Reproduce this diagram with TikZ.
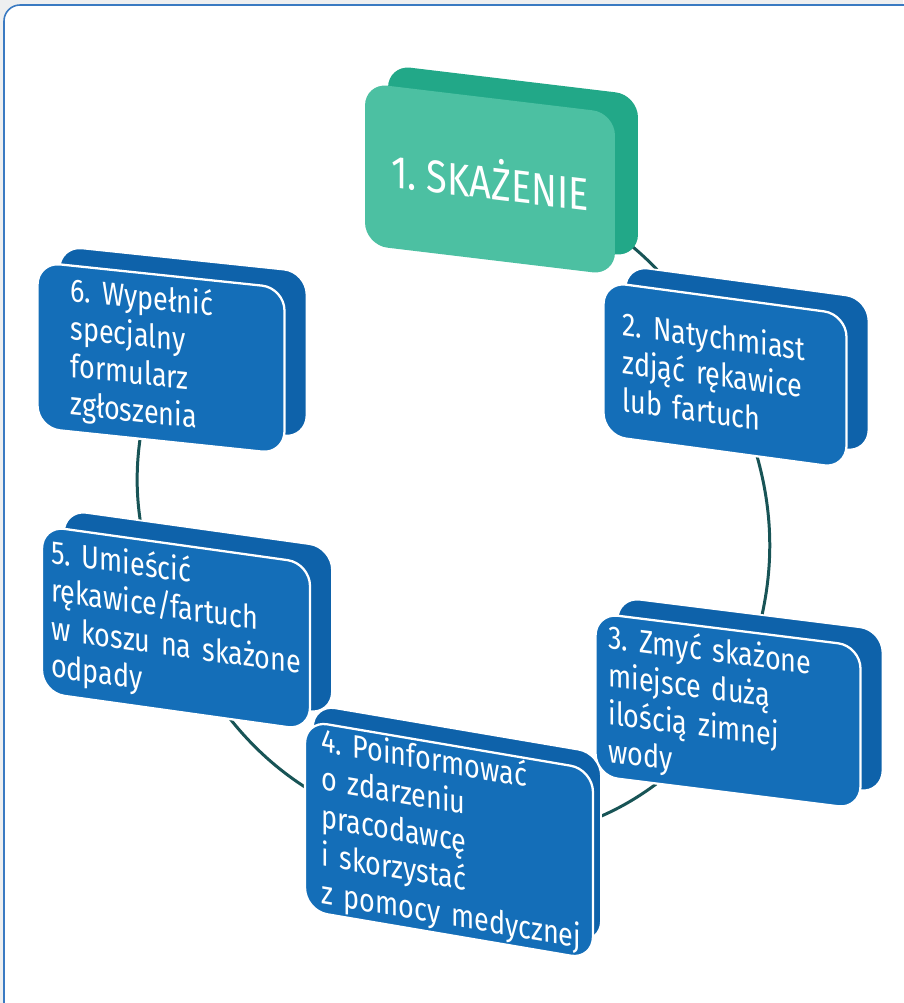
\documentclass[tikz,border=0pt]{standalone}
\usepackage{fontspec}
\setmainfont{Fira Sans}[FakeStretch=0.83]
\usetikzlibrary{shadows}
\definecolor{stepblue}{RGB}{20,110,184}
\definecolor{stepside}{RGB}{14,98,170}
\definecolor{alarmgreen}{RGB}{76,192,162}
\definecolor{alarmside}{RGB}{34,168,136}
\definecolor{linkteal}{RGB}{24,84,86}
\definecolor{pagegray}{RGB}{238,239,240}
\definecolor{frameblue}{RGB}{58,122,194}
\pgfdeclarelayer{frame}
\pgfdeclarelayer{links}
\pgfsetlayers{frame,links,main}
\newcommand{\boxfont}{\fontsize{18.5}{21.6}\selectfont\frenchspacing\hyphenpenalty=10000}

\begin{document}
\begin{tikzpicture}[
    x=0.02cm, y=-0.02cm,
    stepbox/.style={rectangle,rounded corners=0.45cm,fill=stepblue,draw=white,line width=1.3pt,
      inner sep=0pt,align=left,text=white,font=\boxfont,
      copy shadow={fill=stepside,draw=white,line width=1pt,shadow xshift=#1,shadow yshift=0.32cm}},
    stepbox/.default=0.44cm,
    startbox/.style={rectangle,rounded corners=0.45cm,fill=alarmgreen,draw=none,
      inner sep=0pt,align=center,text=white,font=\fontsize{26}{30}\selectfont\frenchspacing,
      copy shadow={fill=alarmside,draw=none,shadow xshift=0.46cm,shadow yshift=0.36cm}},
    link/.style={draw=linkteal,line width=1.7pt}
  ]
    \useasboundingbox (0,0) rectangle (903,1003);
    \begin{pgfonlayer}{frame}
      \fill[pagegray] (0,0) rectangle (903,1003);
      \draw[frameblue,fill=white,line width=0.9pt,rounded corners=0.32cm] (4,5) rectangle (925,1025);
    \end{pgfonlayer}

    \node[startbox,yslant=-0.12,minimum width=5cm,minimum height=3.24cm] (b1) at (490,179) {1. SKAŻENIE};
    \node[stepbox,yslant=-0.135,minimum width=4.86cm,minimum height=3.08cm,text width=4.1cm] (b2) at (725,375)
      {2.~Natychmiast\\zdjąć~rękawice\\lub~fartuch};
    \node[stepbox,yslant=-0.105,minimum width=4.94cm,minimum height=3.32cm,text width=3.62cm] (b6) at (161,358)
      {6.~Wypełnić\\specjalny\\formularz\\zgłoszenia};
    \node[stepbox,yslant=-0.125,minimum width=5.3cm,minimum height=3.26cm,text width=4.78cm] (b3) at (728,711)
      {3.~Zmyć~skażone\\miejsce~dużą\\ilością~zimnej\\wody};
    \node[stepbox,yslant=-0.14,minimum width=5.36cm,minimum height=3.34cm,text width=5cm] (b5) at (176,628)
      {5.~Umieścić\\rękawice/fartuch\\w~koszu~na~skażone\\odpady};
    \node[stepbox=0.16cm,yslant=-0.17,minimum width=5.76cm,minimum height=3.8cm,text width=5.12cm] (b4) at (449,840)
      {4.~Poinformować\\o~zdarzeniu\\pracodawcę\\i~skorzystać\\z~pomocy~medycznej};

    \begin{pgfonlayer}{links}
      \draw[link] (b1.center) to[bend left=26] (b2.center);
      \draw[link] (b2.center) to[bend left=26] (b3.center);
      \draw[link] (b3.center) to[bend left=28] (b4.center);
      \draw[link] (b4.center) to[bend left=28] (b5.center);
      \draw[link] (b5.center) to[bend left=23] (b6.center);
    \end{pgfonlayer}
  \end{tikzpicture}
\end{document}
